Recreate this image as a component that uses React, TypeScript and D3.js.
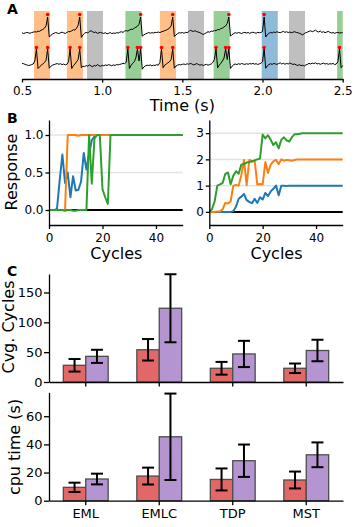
import React, { useRef, useEffect } from 'react';
import * as d3 from 'd3';

const W = 358;
const H = 527;
const FONT = 'DejaVu Sans, sans-serif';

// ---- panel A: two voltage traces, sampled every 10 ms from 0.5 s
const traceStart = 0.5;
const traceStep = 0.01;
const topTrace = [
  2, -3, 0, 4, 1, -2, 3, 5, 8, 6,
  12, 10, 18, 22, 30, 45, 100, -25, -15, -6,
  -2, 3, 0, -4, 2, 5, 1, -3, 4, 9,
  8, 14, 20, 18, 30, 48, 100, -28, -12, -2,
  4, 0, 10, 14, 8, 3, 6, -2, 1, 4,
  0, -3, 2, -5, -2, 3, -4, 0, -3, 2,
  0, 5, 8, 4, 12, 15, 12, 18, 24, 22,
  30, 36, 42, 55, 100, -20, -12, -6, -2, 3,
  -1, 2, 0, 4, 3, 6, 2, 8, 10, 15,
  18, 24, 30, 45, 100, -22, -12, -4, 2, 0,
  3, -2, 4, 2, 8, 18, 12, 10, 14, 8,
  6, 2, -4, -10, -4, 2, 8, 5, 12, 10,
  16, 14, 22, 20, 28, 30, 38, 45, 60, 100,
  -20, -10, -4, 2, -2, 3, 0, -3, 2, 4,
  0, 3, -2, 2, 5, 1, -1, 4, 2, 3,
  10, 100, -25, -10, -2, 4, 0, 6, 3, 8,
  4, 2, 6, 10, 4, 8, 3, 6, 2, 5,
  8, 4, 2, -2, -6, -12, -4, 2, 6, 10,
  14, 8, 12, 18, 10, 6, 12, 4, 8, 2,
  6, 10, 4, 0, 3, -2, 2, 4, 0, 2,
  1,
];
const bottomTrace = [
  4, 2, -3, -6, -10, -8, -4, 0, 20, 100,
  -30, -18, -8, 0, 10, 25, 100, -28, -15, -8,
  -4, 0, 3, -2, 2, -4, 0, -6, -2, 15,
  100, -30, -12, 0, 15, 30, 100, -25, -14, -18,
  -10, -15, -6, -12, -20, -8, -14, -4, -10, -16,
  -8, -12, -6, -10, -4, -8, -12, -6, -10, -4,
  -6, -2, 0, 4, 2, 12, 100, -30, -10, 5,
  15, 40, 100, 20, 100, -35, -20, -12, -8, -10,
  -6, -12, -8, -10, -4, -8, 10, 100, -25, -8,
  0, 8, 15, 30, 100, -28, -14, -8, -4, -6,
  -2, 0, -4, 2, -2, 4, 0, -6, -2, 3,
  -3, -8, -4, -10, -6, -2, -8, -4, 0, 10,
  30, 100, -25, -8, 5, 20, 40, 100, 30, 100,
  -30, -15, -5, 0, -4, 2, -2, 3, 0, -3,
  2, -2, 3, 0, 4, -1, 2, -3, 1, 5,
  15, 100, -28, -12, -4, 2, -3, 4, 0, -2,
  3, 8, 0, 5, -2, 4, 0, 6, 2, -3,
  0, -6, -10, -4, -12, -8, -14, -6, -2, 4,
  0, 6, 2, 8, 0, 4, -2, 2, 6, 0,
  3, -2, 2, 0, 4, -4, 0, 15, 100, -25,
  -10,
];
const topSpikes = [0.66, 0.86, 1.24, 1.44, 1.79, 2.01];
const bottomSpikes = [0.59, 0.66, 0.8, 0.86, 1.16, 1.22, 1.24, 1.37, 1.44, 1.71, 1.77, 1.79, 2.01, 2.48];
const spanStart = [0.575, 0.78, 0.905, 1.145, 1.36, 1.535, 1.695, 1.995, 2.165, 2.465];
const spanEnd = [0.675, 0.88, 1.005, 1.245, 1.46, 1.635, 1.795, 2.095, 2.265, 2.5];
const spanKind = ['orange', 'orange', 'gray', 'green', 'orange', 'gray', 'green', 'blue', 'gray', 'green'];
const spanColor: Record<string, string> = {
  orange: '#ffbf87', gray: '#bfbfbf', green: '#95cf95', blue: '#8fbbd9',
};

// ---- panel B: responses per cycle (0..50)
const respBlue = [
  0, 0, 0, 0.02, 0.4, 0.74, 0.36, 0.5, 0.17, 0.45,
  0.26, 0.27, 0.38, 0.76, 0.54, 0.75, 0.93, 0.98, 1, 1,
  1, 1, 1, 1, 1, 1, 1, 1, 1, 1,
  1, 1, 1, 1, 1, 1, 1, 1, 1, 1,
  1, 1, 1, 1, 1, 1, 1, 1, 1, 1, 1,
];
const respOrange = [
  0, 0, 0, 0, 0, 0, 0, 1, 1, 1,
  1, 0.99, 1, 1, 1, 1, 1, 1, 1, 1,
  1, 1, 1, 1, 1, 1, 1, 1, 1, 1,
  1, 1, 1, 1, 1, 1, 1, 1, 1, 1,
  1, 1, 1, 1, 1, 1, 1, 1, 1, 1, 1,
];
const respGreen = [
  0, 0, 0, 0, 0, 0, -0.01, 0, 0, -0.01,
  -0.01, 0, 0, 0, 0, 1, 0.35, 0.95, 1, 1,
  0.28, 0.17, 0.08, 1, 1, 1, 1, 1, 1, 1,
  1, 1, 1, 1, 1, 1, 1, 1, 1, 1,
  1, 1, 1, 1, 1, 1, 1, 1, 1, 1, 1,
];
const cumBlue = [
  0, 0, 0, 0, 0, 0, 0, 0, 0, 0.02,
  0.2, 0.5, 0.58, 0.68, 0.45, 0.38, 0.33, 0.5, 0.34, 0.56,
  0.47, 0.72, 0.6, 0.78, 0.88, 1, 0.63, 1, 1, 0.99,
  1, 1, 1, 1, 1, 1, 1, 1, 1, 1,
  1, 1, 1, 1, 1, 1, 1, 1, 1, 1, 1,
];
const cumOrange = [
  0, 0, 0, 0.01, 0.02, 0.1, 0.34, 0.32, 0.4, 1,
  1.02, 1, 1.4, 1.98, 1.02, 1.98, 1.92, 1.95, 1.04, 1.06,
  1.04, 1.9, 1.48, 1.8, 1.92, 1.98, 1.82, 2, 1.95, 1.98,
  1.97, 1.95, 1.98, 2, 2, 2, 2, 2, 2, 2,
  2, 2, 2, 2, 2, 2, 2, 2, 2, 2, 2,
];
const cumGreen = [
  0, 0.1, 0.4, 1, 1.05, 1.1, 1.45, 1.5, 1.05, 1.38,
  1.55, 1.45, 1.8, 1.82, 1.88, 1.9, 1.93, 1.96, 2, 2.03,
  2.95, 2.8, 2.92, 2.75, 2.55, 2.65, 2.42, 2.75, 2.84, 2.72,
  2.68, 2.85, 2.96, 2.96, 2.98, 3, 3, 3, 3, 3,
  3, 3, 3, 3, 3, 3, 3, 3, 3, 3, 3,
];

// ---- panel C: bars with error bars
const methods = ['EML', 'EMLC', 'TDP', 'MST'];
const cyclesRed = [28, 54, 23, 23];
const cyclesRedErr = [10.5, 18, 10.7, 8];
const cyclesPurple = [43, 123.6, 47, 52.8];
const cyclesPurpleErr = [11, 57, 22, 18];
const cpuRed = [9.5, 17.5, 15.1, 14.7];
const cpuRedErr = [3.3, 6, 7.8, 6];
const cpuPurple = [15.4, 45.4, 28.4, 32.6];
const cpuPurpleErr = [3.8, 30.7, 11.5, 8.8];

const C_BLUE = '#1f77b4';
const C_ORANGE = '#ff7f0e';
const C_GREEN = '#2ca02c';
const LABEL = 16;

function styleAxis(g: any, size = 12) {
  g.attr('font-family', FONT).attr('font-size', size);
  g.select('.domain').attr('stroke', '#000').attr('stroke-width', 1.3);
  g.selectAll('.tick line').attr('stroke', '#000').attr('stroke-width', 1.3);
  g.selectAll('.tick text').attr('fill', '#000');
}

function label(svg: any, text: string, x: number, y: number, rotate = false) {
  const t = svg.append('text')
    .attr('text-anchor', 'middle')
    .attr('font-family', FONT)
    .attr('font-size', LABEL)
    .text(text);
  if (rotate) t.attr('transform', `translate(${x},${y}) rotate(-90)`);
  else t.attr('x', x).attr('y', y);
}

function panelLetter(svg: any, text: string, x: number, y: number) {
  svg.append('text').attr('x', x).attr('y', y)
    .attr('font-family', FONT).attr('font-weight', 'bold').attr('font-size', 14)
    .text(text);
}

export default function App() {
  const ref = useRef<SVGSVGElement>(null);

  useEffect(() => {
    const svg = d3.select(ref.current);
    svg.selectAll('*').remove();

    // ================= A
    const xA = d3.scaleLinear().domain([0.5, 2.5]).range([22, 342.7]);
    const yTop = d3.scaleLinear().domain([0, 100]).range([33, 17]);
    const yBot = d3.scaleLinear().domain([0, 100]).range([64, 49]);

    svg.append('g').selectAll('rect').data(spanStart).enter().append('rect')
      .attr('x', (d) => xA(d))
      .attr('width', (d, i) => xA(spanEnd[i]) - xA(d))
      .attr('y', 11).attr('height', 68)
      .attr('fill', (d, i) => spanColor[spanKind[i]]);

    const lineTop = d3.line<number>()
      .x((d, i) => xA(traceStart + i * traceStep))
      .y((d) => yTop(d));
    const lineBot = d3.line<number>()
      .x((d, i) => xA(traceStart + i * traceStep))
      .y((d) => yBot(d));
    svg.append('path').datum(topTrace).attr('d', lineTop)
      .attr('fill', 'none').attr('stroke', '#000').attr('stroke-width', 1);
    svg.append('path').datum(bottomTrace).attr('d', lineBot)
      .attr('fill', 'none').attr('stroke', '#000').attr('stroke-width', 1);

    svg.append('g').selectAll('circle').data(topSpikes).enter().append('circle')
      .attr('cx', (d) => xA(d)).attr('cy', 14.5).attr('r', 1.8).attr('fill', '#ff0000');
    svg.append('g').selectAll('circle').data(bottomSpikes).enter().append('circle')
      .attr('cx', (d) => xA(d)).attr('cy', 47.5).attr('r', 1.8).attr('fill', '#ff0000');

    const axA = svg.append('g').attr('transform', 'translate(0,79)')
      .call(d3.axisBottom(xA).tickValues([0.5, 1, 1.5, 2, 2.5]).tickFormat(d3.format('.1f'))
        .tickSize(3.5).tickSizeOuter(0).tickPadding(3.5));
    styleAxis(axA);
    label(svg, 'Time (s)', xA(1.5), 111);
    panelLetter(svg, 'A', 7, 13.5);

    // ================= B
    const drawResp = (x0: number, x1: number, yDom: [number, number], yTicks: number[], fmt: (v: number) => string,
      series: [number[], string][]) => {
      const x = d3.scaleLinear().domain([0, 50]).range([x0, x1]);
      const y = d3.scaleLinear().domain(yDom).range([225, 120]);
      const g = svg.append('g');
      g.selectAll('line.grid').data(yTicks.filter((v) => v !== 0)).enter().append('line')
        .attr('x1', x0).attr('x2', x1)
        .attr('y1', (d) => y(d)).attr('y2', (d) => y(d))
        .attr('stroke', '#e3e3e3').attr('stroke-width', 1.5);
      g.append('line').attr('x1', x(0)).attr('x2', x(50)).attr('y1', y(0)).attr('y2', y(0))
        .attr('stroke', '#000').attr('stroke-width', 2);
      const line = d3.line<number>().x((d, i) => x(i)).y((d) => y(d));
      series.forEach(([vals, col]) => {
        g.append('path').datum(vals).attr('d', line)
          .attr('fill', 'none').attr('stroke', col).attr('stroke-width', 2)
          .attr('stroke-linejoin', 'round');
      });
      const ax = svg.append('g').attr('transform', 'translate(0,225)')
        .call(d3.axisBottom(x).tickValues([0, 20, 40]).tickSize(4).tickSizeOuter(0).tickPadding(4.5));
      styleAxis(ax);
      const ay = svg.append('g').attr('transform', `translate(${x0},0)`)
        .call(d3.axisLeft(y).tickValues(yTicks).tickFormat(fmt as any).tickSize(3.5).tickSizeOuter(0).tickPadding(2));
      styleAxis(ay);
      label(svg, 'Cycles', (x0 + x1) / 2 + 0.5, 258.5);
    };

    drawResp(49, 182.7, [-0.2, 1.2], [0, 0.5, 1], d3.format('.1f'),
      [[respBlue, C_BLUE], [respOrange, C_ORANGE], [respGreen, C_GREEN]]);
    drawResp(209.3, 342.7, [-0.5, 3.5], [0, 1, 2, 3], d3.format('d'),
      [[cumBlue, C_BLUE], [cumOrange, C_ORANGE], [cumGreen, C_GREEN]]);
    label(svg, 'Response', 16.5, 172, true);
    panelLetter(svg, 'B', 7, 122.5);

    // ================= C
    const xC = d3.scaleBand<string>().domain(methods).range([49, 343]).padding(0);
    const barW = xC.bandwidth() * 0.305;

    const drawBars = (yDom: [number, number], yTop0: number, yBase: number, yTicks: number[],
      red: number[], redErr: number[], purple: number[], purpleErr: number[], showLabels: boolean) => {
      const y = d3.scaleLinear().domain(yDom).range([yBase, yTop0]);
      const g = svg.append('g');
      const groups: [number[], number[], string, number][] = [
        [red, redErr, '#e26868', -1],
        [purple, purpleErr, '#b495d1', 0],
      ];
      groups.forEach(([vals, errs, col, off]) => {
        const cx = (i: number) => (xC(methods[i]) as number) + xC.bandwidth() / 2 + off * barW;
        g.selectAll(null).data(vals).enter().append('rect')
          .attr('x', (d, i) => cx(i))
          .attr('width', barW)
          .attr('y', (d) => y(d))
          .attr('height', (d) => yBase - y(d))
          .attr('fill', col)
          .attr('stroke', '#4d4d4d').attr('stroke-width', 1.3);
        vals.forEach((v, i) => {
          const mx = cx(i) + barW / 2;
          const lo = y(v - errs[i]);
          const hi = y(v + errs[i]);
          g.append('line').attr('x1', mx).attr('x2', mx).attr('y1', lo).attr('y2', hi)
            .attr('stroke', '#000').attr('stroke-width', 2);
          [lo, hi].forEach((yy) => {
            g.append('line').attr('x1', mx - 6).attr('x2', mx + 6).attr('y1', yy).attr('y2', yy)
              .attr('stroke', '#000').attr('stroke-width', 2);
          });
        });
      });
      const ax = svg.append('g').attr('transform', `translate(0,${yBase})`)
        .call(d3.axisBottom(xC).tickSize(4.5).tickSizeOuter(0).tickPadding(3.8)
          .tickFormat(showLabels ? ((d: string) => d) : () => ''));
      styleAxis(ax, 13);
      const ay = svg.append('g').attr('transform', 'translate(49,0)')
        .call(d3.axisLeft(y).tickValues(yTicks).tickSize(5).tickSizeOuter(0).tickPadding(1.5));
      styleAxis(ay, 13);
    };

    drawBars([0, 181], 274, 382, [0, 50, 100, 150],
      cyclesRed, cyclesRedErr, cyclesPurple, cyclesPurpleErr, false);
    drawBars([0, 77], 392.3, 500.7, [0, 20, 40, 60],
      cpuRed, cpuRedErr, cpuPurple, cpuPurpleErr, true);
    label(svg, 'Cvg. Cycles', 14, 327, true);
    label(svg, 'cpu time (s)', 20, 447, true);
    panelLetter(svg, 'C', 7, 275.5);
  }, []);

  return (
    <svg ref={ref} width={W} height={H}
      style={{ position: 'absolute', left: 0, top: 0, background: 'white' }} />
  );
}
